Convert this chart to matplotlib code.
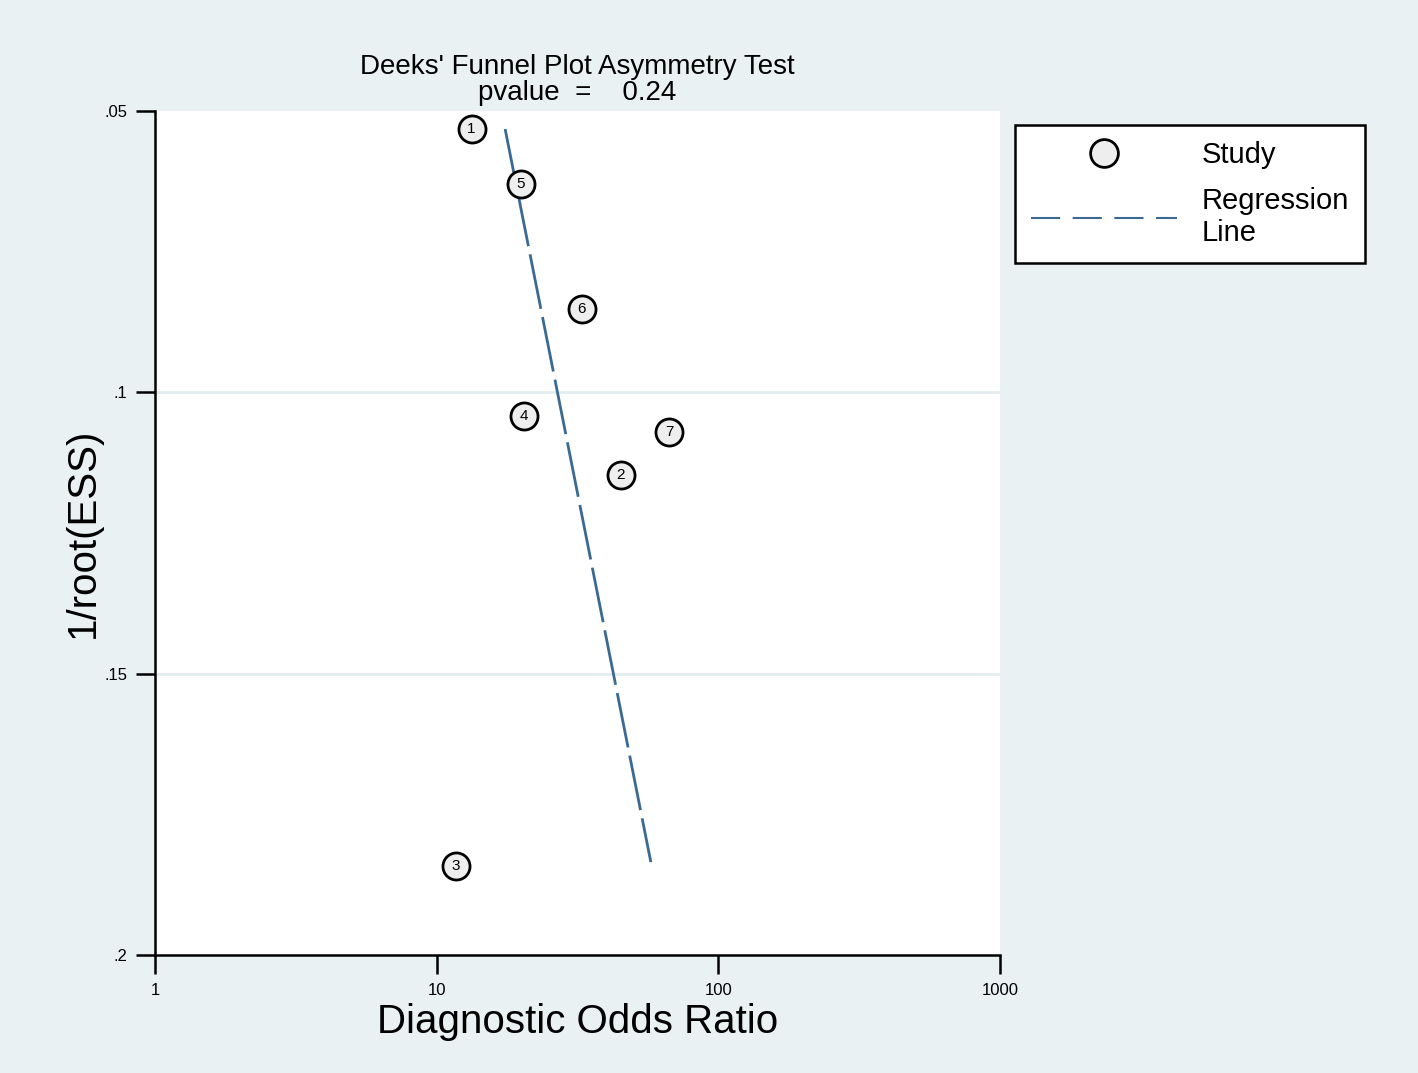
import matplotlib
matplotlib.use('Agg')
import matplotlib.pyplot as plt
from matplotlib.lines import Line2D

plt.rcParams['font.family'] = ['Liberation Sans', 'DejaVu Sans']

# study points
study_ids = ['1', '2', '3', '4', '5', '6', '7']
dor = [13.3, 45.1, 11.7, 20.4, 19.9, 32.8, 66.8]
inv_ess = [0.0532, 0.1147, 0.1842, 0.1042, 0.0630, 0.0852, 0.1071]

# regression line end points
reg_dor = [17.5, 57.6]
reg_y = [0.0532, 0.1835]

xticks = [1, 10, 100, 1000]
xticklabels = ['1', '10', '100', '1000']
yticks = [0.05, 0.1, 0.15, 0.2]
yticklabels = ['.05', '.1', '.15', '.2']

bg = '#E9F1F3'
fig = plt.figure(figsize=(14.18, 10.73), dpi=100, facecolor=bg)
ax = fig.add_axes([155/1418, 1-955/1073, 845/1418, 844/1073])
ax.set_facecolor('white')

ax.set_xscale('log')
ax.set_xlim(1, 1000)
ax.set_ylim(0.2, 0.05)
ax.set_xticks(xticks)
ax.set_xticklabels(xticklabels)
ax.minorticks_off()
ax.set_yticks(yticks)
ax.set_yticklabels(yticklabels)
for yv in [0.1, 0.15]:
    ax.axhline(yv, color='#E3ECEF', lw=2, zorder=0)

for s in ['top', 'right']:
    ax.spines[s].set_visible(False)
for s in ['left', 'bottom']:
    ax.spines[s].set_linewidth(1.8)
ax.tick_params(direction='out', length=14, width=1.8, labelsize=12, pad=6)

ax.plot(reg_dor, reg_y, color='#3A6A94', lw=2, dashes=(20, 3), zorder=2)
ax.scatter(dor, inv_ess, s=380, facecolor='#EEEEEE', edgecolor='black', linewidth=2, zorder=3, clip_on=False)
for sid, xv, yv in zip(study_ids, dor, inv_ess):
    ax.text(xv, yv, sid, ha='center', va='center', fontsize=11, zorder=4)

ax.set_xlabel('Diagnostic Odds Ratio', fontsize=29, labelpad=4)
ax.set_ylabel('1/root(ESS)', fontsize=29, labelpad=2)
ax.set_title("Deeks' Funnel Plot Asymmetry Test\npvalue  =    0.24", fontsize=20, linespacing=1.0, pad=8)

handles = [Line2D([], [], marker='o', ls='none', markersize=20, markerfacecolor='#EEEEEE',
                  markeredgecolor='black', markeredgewidth=2),
           Line2D([], [], color='#3A6A94', lw=1.5, dashes=(14, 6))]
leg = fig.legend(handles, ['Study', 'Regression\nLine'], loc='upper left',
                 bbox_to_anchor=(1015/1418, 1-125/1073), fontsize=21, frameon=True,
                 fancybox=False, edgecolor='black', facecolor='white', framealpha=1,
                 handlelength=5.0, handletextpad=0.85, borderpad=0.55, labelspacing=0.6,
                 borderaxespad=0)
leg.get_frame().set_linewidth(1.8)

fig.savefig('out.png', dpi=100, facecolor=bg)
